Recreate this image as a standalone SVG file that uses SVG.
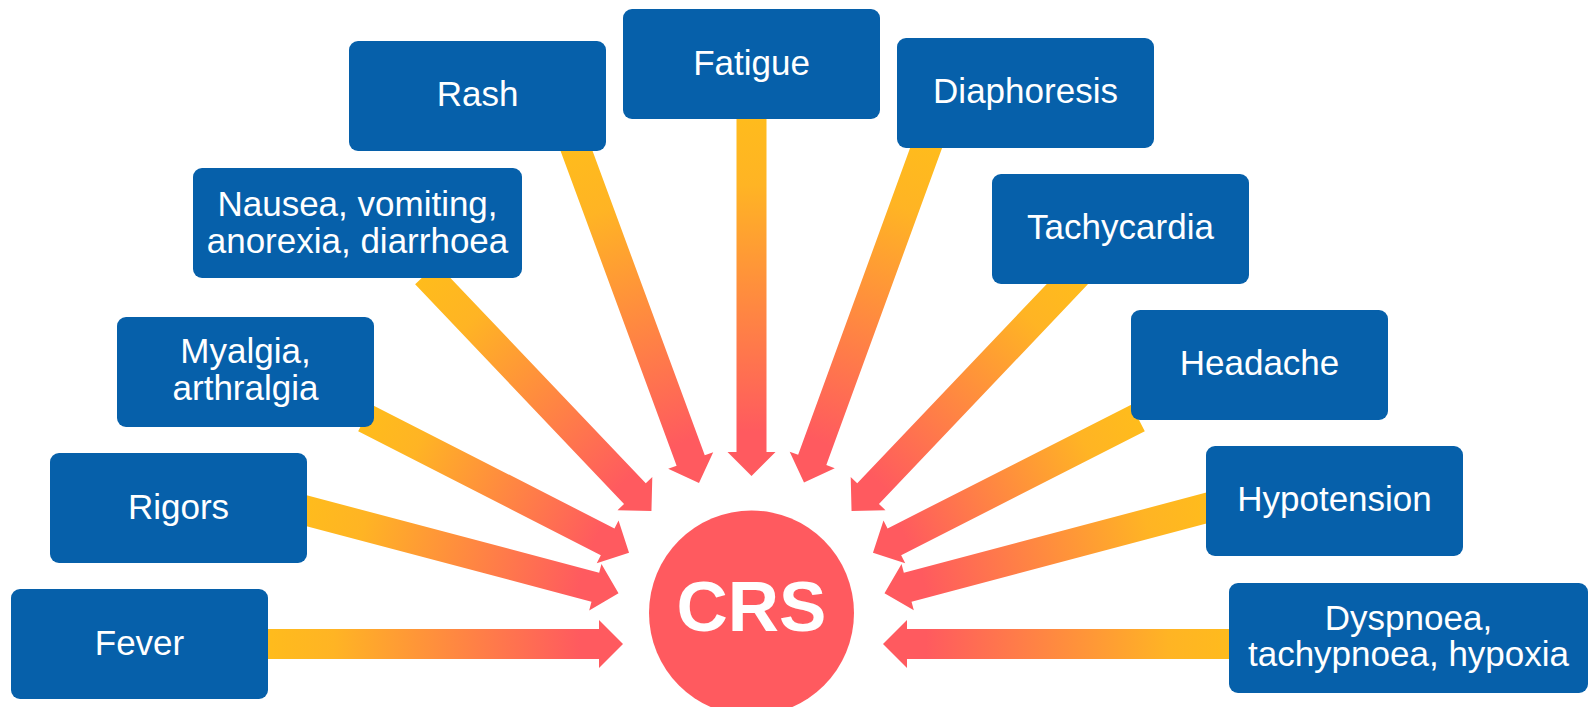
<svg xmlns="http://www.w3.org/2000/svg" width="1589" height="707" viewBox="0 0 1589 707">
<defs>
<linearGradient id="ag" x1="0" y1="0" x2="1" y2="0">
<stop offset="0" stop-color="#FFBC1C"/>
<stop offset="0.2" stop-color="#FFB424"/>
<stop offset="0.88" stop-color="#FF5A5F"/>
<stop offset="1" stop-color="#FF5A5F"/>
</linearGradient>
<style>
.box{fill:#0660AA;}
.lbl{fill:#FFFFFF;font-family:"Liberation Sans",Arial,sans-serif;font-size:35px;text-anchor:middle;}
.arr{fill:url(#ag);}
</style>
</defs>
<rect width="1589" height="707" fill="#FFFFFF"/>
<g id="connectors">
<path class="arr" transform="translate(262,644) rotate(0)" d="M0,-15 H337 V-24 L361,0 L337,24 V15 H0 Z"/>
<path class="arr" transform="translate(300,509) rotate(14.83)" d="M0,-15 H305.5 V-24 L329.5,0 L305.5,24 V15 H0 Z"/>
<path class="arr" transform="translate(365,418) rotate(27.03)" d="M0,-15 H272.4 V-24 L296.4,0 L272.4,24 V15 H0 Z"/>
<path class="arr" transform="translate(426,274) rotate(46.43)" d="M0,-15 H303.1 V-24 L327.1,0 L303.1,24 V15 H0 Z"/>
<path class="arr" transform="translate(574,144) rotate(69.76)" d="M0,-15 H337.3 V-24 L361.3,0 L337.3,24 V15 H0 Z"/>
<path class="arr" transform="translate(751.5,112) rotate(90)" d="M0,-15 H340 V-24 L364,0 L340,24 V15 H0 Z"/>
<path class="arr" transform="translate(929,140) rotate(110.05)" d="M0,-15 H340.6 V-24 L364.6,0 L340.6,24 V15 H0 Z"/>
<path class="arr" transform="translate(1077,274) rotate(133.57)" d="M0,-15 H303.1 V-24 L327.1,0 L303.1,24 V15 H0 Z"/>
<path class="arr" transform="translate(1138,418) rotate(153.06)" d="M0,-15 H273.3 V-24 L297.3,0 L273.3,24 V15 H0 Z"/>
<path class="arr" transform="translate(1212,506.6) rotate(165.17)" d="M0,-15 H314.8 V-24 L338.8,0 L314.8,24 V15 H0 Z"/>
<path class="arr" transform="translate(1240,644) rotate(180)" d="M0,-15 H333 V-24 L357,0 L333,24 V15 H0 Z"/>
</g>
<g id="crs">
<circle cx="751.5" cy="613" r="102.5" fill="#FF5A5F"/>
<text x="751.5" y="631" fill="#FFFFFF" font-family="'Liberation Sans',Arial,sans-serif" font-size="71" font-weight="bold" text-anchor="middle">CRS</text>
</g>
<g id="fever"><rect class="box" x="11" y="589" width="257" height="110" rx="9"/><text class="lbl" x="139.5" y="655">Fever</text></g>
<g id="rigors"><rect class="box" x="50" y="453" width="257" height="110" rx="9"/><text class="lbl" x="178.5" y="519">Rigors</text></g>
<g id="myalgia"><rect class="box" x="117" y="317" width="257" height="110" rx="9"/><text class="lbl" x="245.5" y="363">Myalgia,</text><text class="lbl" x="245.5" y="400">arthralgia</text></g>
<g id="nausea"><rect class="box" x="193" y="168" width="329" height="110" rx="9"/><text class="lbl" x="357.5" y="216">Nausea, vomiting,</text><text class="lbl" x="357.5" y="253">anorexia, diarrhoea</text></g>
<g id="rash"><rect class="box" x="349" y="41" width="257" height="110" rx="9"/><text class="lbl" x="477.5" y="106">Rash</text></g>
<g id="fatigue"><rect class="box" x="623" y="9" width="257" height="110" rx="9"/><text class="lbl" x="751.5" y="75">Fatigue</text></g>
<g id="diaphoresis"><rect class="box" x="897" y="38" width="257" height="110" rx="9"/><text class="lbl" x="1025.5" y="103">Diaphoresis</text></g>
<g id="tachycardia"><rect class="box" x="992" y="174" width="257" height="110" rx="9"/><text class="lbl" x="1120.5" y="239">Tachycardia</text></g>
<g id="headache"><rect class="box" x="1131" y="310" width="257" height="110" rx="9"/><text class="lbl" x="1259.5" y="375">Headache</text></g>
<g id="hypotension"><rect class="box" x="1206" y="446" width="257" height="110" rx="9"/><text class="lbl" x="1334.5" y="511">Hypotension</text></g>
<g id="dyspnoea"><rect class="box" x="1229" y="583" width="359" height="110" rx="9"/><text class="lbl" x="1408.5" y="630">Dyspnoea,</text><text class="lbl" x="1408.5" y="666">tachypnoea, hypoxia</text></g>
</svg>
